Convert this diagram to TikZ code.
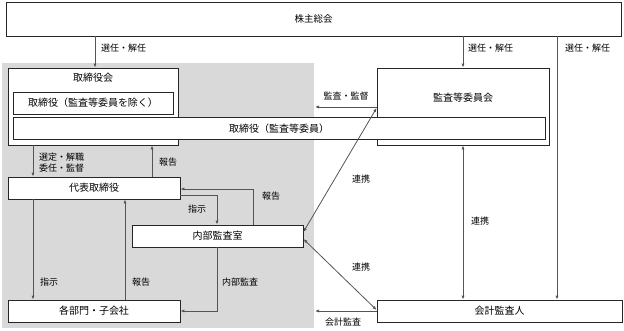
\documentclass[tikz,border=0pt]{standalone}
\usepackage{fontspec}
\setmainfont{Noto Sans CJK JP}
\usetikzlibrary{arrows.meta}
\definecolor{bggray}{HTML}{D9D9D9}
\definecolor{linegray}{HTML}{555555}
\tikzset{
  box/.style={draw=black!85, line width=0.8pt, fill=white, inner sep=0pt, font=\fontsize{10}{12}\selectfont},
  lbl/.style={inner sep=0pt, font=\fontsize{9}{11}\selectfont},
  conn/.style={draw=linegray, line width=0.8pt},
  arr/.style={conn, -{Latex[length=4pt,width=3.2pt]}},
  darr/.style={conn, {Latex[length=4pt,width=3.2pt]}-{Latex[length=4pt,width=3.2pt]}},
}
\begin{document}
\begin{tikzpicture}[x=1pt,y=-1pt]
\useasboundingbox (0,0) rectangle (624,330);
\fill[bggray] (2,63) rectangle (314,328);
% boxes
\node[box, minimum width=615pt, minimum height=34pt, font=\fontsize{9.5}{11}\selectfont] (sh) at (313.5,19) {株主総会};
\node[box, minimum width=170pt, minimum height=77pt] (bod) at (93,106.5) {};
\node[lbl, font=\fontsize{10}{12}\selectfont] (bodt) at (93,78) {取締役会};
\node[box, minimum width=172pt, minimum height=77pt] (ac) at (463,106.5) {};
\node[lbl, font=\fontsize{10}{12}\selectfont] (act) at (463,98) {監査等委員会};
\node[box, minimum width=160pt, minimum height=22pt] (d1) at (93,103) {取締役（監査等委員を除く）};
\node[box, minimum width=532pt, minimum height=22pt] (d2) at (279,128.5) {取締役（監査等委員）};
\node[box, minimum width=172pt, minimum height=22pt] (ceo) at (94,188) {代表取締役};
\node[box, minimum width=171pt, minimum height=22pt] (ia) at (217.5,236) {内部監査室};
\node[box, minimum width=172pt, minimum height=22pt] (div) at (94,311) {各部門・子会社};
\node[box, minimum width=245pt, minimum height=22pt] (ext) at (499.5,311) {会計監査人};
% helper coordinates
\coordinate (x33) at (33,0);
\coordinate (x95) at (95,0);
\coordinate (x125) at (125,0);
\coordinate (x152) at (152,0);
\coordinate (x217) at (217,0);
\coordinate (x253) at (253,0);
\coordinate (x463) at (463,0);
\coordinate (x557) at (557,0);
\coordinate (y107) at (0,107);
\coordinate (y108) at (0,108);
\coordinate (y189) at (0,189);
\coordinate (y195) at (0,195);
\coordinate (y232) at (0,232);
\coordinate (y239) at (0,239);
\coordinate (y310) at (0,310);
\coordinate (y311) at (0,311);
\coordinate (endA) at (315,107);
\coordinate (endB) at (315,311);
% connectors
\draw[arr] (sh.south -| x95) -- (bod.north -| x95);
\draw[arr] (sh.south -| x463) -- (ac.north -| x463);
\draw[arr] (sh.south -| x557) -- (ext.north -| x557);
\draw[arr] (ac.west |- y107) -- (endA);
\draw[darr] (ia.east |- y232) -- (ac.west |- y108);
\draw[darr] (ia.east |- y239) -- (ext.west |- y310);
\draw[darr] (ac.south -| x463) -- (ext.north -| x463);
\draw[arr] (ext.west |- y311) -- (endB);
\draw[arr] (bod.south -| x33) -- (ceo.north -| x33);
\draw[arr] (ceo.north -| x152) -- (bod.south -| x152);
\draw[arr] (ia.north -| x253) |- (ceo.east |- y189);
\draw[arr] (ceo.east |- y195) -| (ia.north -| x217);
\draw[arr] (ceo.south -| x33) -- (div.north -| x33);
\draw[arr] (div.north -| x125) -- (ceo.south -| x125);
\draw[arr] (ia.south -| x217) |- (div.east |- y311);
% labels
\node[lbl, anchor=west] (l1) at (101,48) {選任・解任};
\node[lbl, anchor=west] (l2) at (468,48) {選任・解任};
\node[lbl, anchor=west] (l3) at (565,48) {選任・解任};
\node[lbl] (l4) at (346,96.5) {監査・監督};
\node[lbl, anchor=west] (l5) at (39,157) {選定・解職};
\node[lbl, anchor=west] (l6) at (39,168) {委任・監督};
\node[lbl, anchor=west] (l7) at (159,162) {報告};
\node[lbl, anchor=west] (l8) at (188,209) {指示};
\node[lbl, anchor=west] (l9) at (262,196) {報告};
\node[lbl, anchor=west] (l10) at (352,179) {連携};
\node[lbl, anchor=west] (l11) at (471,221) {連携};
\node[lbl, anchor=west] (l12) at (352,267) {連携};
\node[lbl, anchor=west] (l13) at (325,322) {会計監査};
\node[lbl, anchor=west] (l14) at (40,282) {指示};
\node[lbl, anchor=west] (l15) at (132,282) {報告};
\node[lbl, anchor=west] (l16) at (222,282) {内部監査};
\end{tikzpicture}
\end{document}
